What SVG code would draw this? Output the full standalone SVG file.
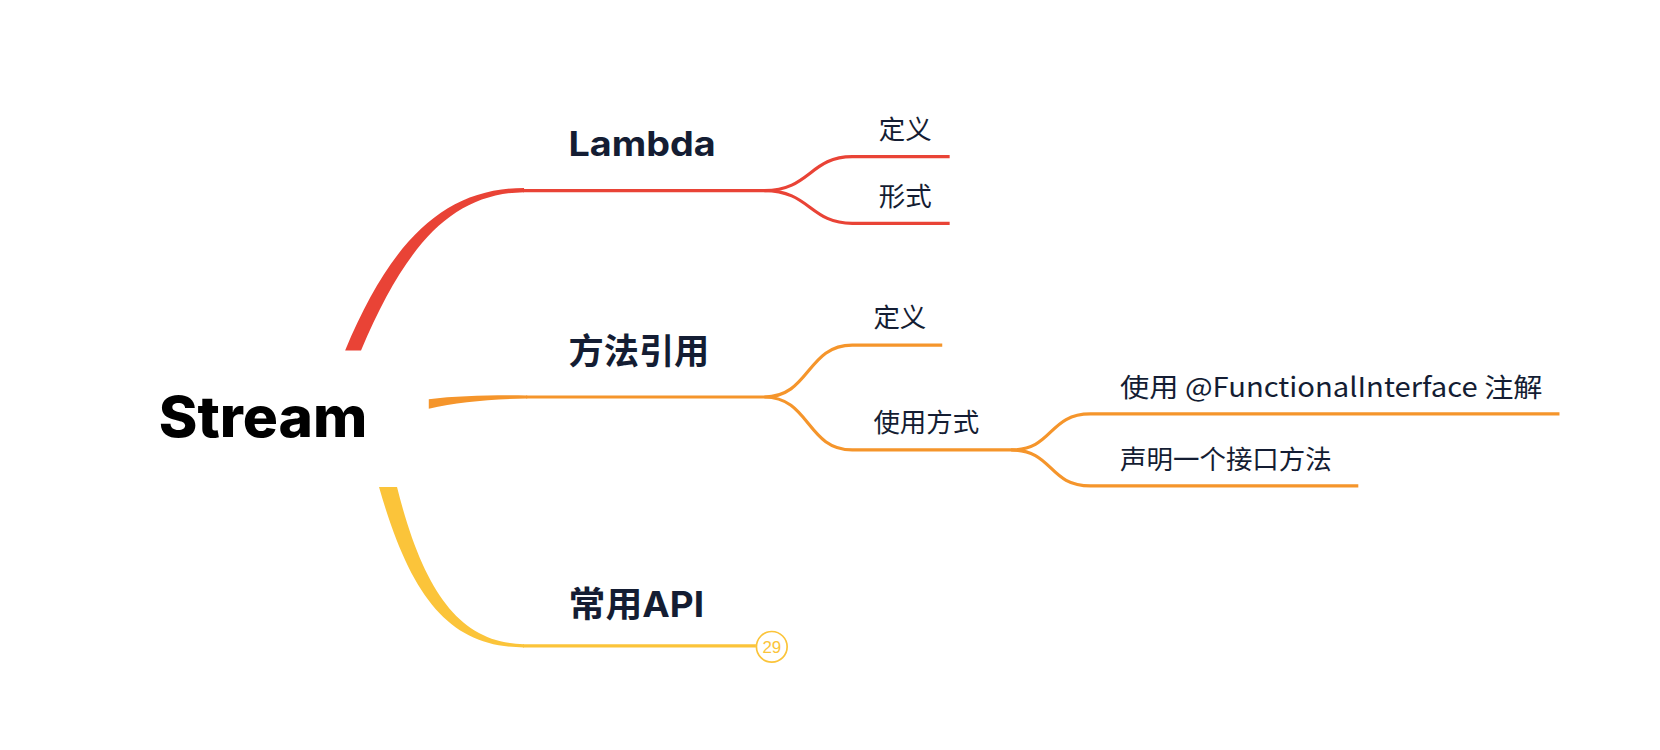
<svg xmlns="http://www.w3.org/2000/svg" width="1660" height="750" viewBox="0 0 1660 750">
<style>
.root{font-family:"Inter","Open Sans","Noto Sans CJK SC",sans-serif;font-weight:800;fill:#000}
.main{font-family:"Inter","Noto Sans CJK SC",sans-serif;font-weight:700;fill:#141d33}
.sub{font-family:"Noto Sans CJK SC","Noto Sans",sans-serif;font-weight:400;fill:#141d33}
.red{stroke:#e94336;fill:none;stroke-width:3}
.org{stroke:#f5952b;fill:none;stroke-width:3}
.yel{stroke:#fbc43a;fill:none;stroke-width:3}
</style>
<rect width="1660" height="750" fill="#fff"/>
<g transform="scale(1.0587)">
<g id="connectors">
  <path d="M326,331 C368,230 418,177.5 495,177.5 L495,181.5 C425,183 382,234 341,331 Z" fill="#e94336"/>
  <path class="red" d="M494,180 L722,180 C765,180 765,148 805,148 L897,148"/>
  <path class="red" d="M722,180 C765,180 765,211 805,211 L897,211"/>
  <path d="M405,377 C432,374 462,373 498,373.5 L498,376.5 C462,377 432,380 405,386 Z" fill="#f5952b"/>
  <path class="org" d="M497,375 L722,375 C765,375 762,326 805,326 L890,326"/>
  <path class="org" d="M722,375 C765,375 762,425 805,425 L955,425"/>
  <path class="org" d="M955,425 C995,425 990,391 1030,391 L1473,391"/>
  <path class="org" d="M955,425 C995,425 990,459 1030,459 L1283,459"/>
  <path d="M358,460 C388,565 425,611.5 495,611.5 L495,608.5 C435,607.5 400,560 375,460 Z" fill="#fbc43a"/>
  <path class="yel" d="M494,610 L714,610"/>
</g>
<g id="node-stream"><text class="root" x="150" y="413" font-size="53" textLength="197" lengthAdjust="spacingAndGlyphs">Stream</text></g>
<g id="node-lambda"><text class="main" x="537" y="147" font-size="32" font-weight="800" textLength="139" lengthAdjust="spacingAndGlyphs">Lambda</text></g>
<g id="node-lambda-def"><text class="sub" x="830" y="131" font-size="25">定义</text></g>
<g id="node-lambda-form"><text class="sub" x="830" y="195" font-size="25">形式</text></g>
<g id="node-methodref"><text class="main" x="537" y="344" font-size="33" textLength="133" lengthAdjust="spacingAndGlyphs">方法引用</text></g>
<g id="node-methodref-def"><text class="sub" x="825" y="309" font-size="25">定义</text></g>
<g id="node-usage"><text class="sub" x="825" y="408" font-size="25">使用方式</text></g>
<g id="node-fi"><text class="sub" x="1058" y="375" font-size="25" textLength="399" lengthAdjust="spacingAndGlyphs">使用 @FunctionalInterface 注解</text></g>
<g id="node-declare"><text class="sub" x="1058" y="443" font-size="25">声明一个接口方法</text></g>
<g id="node-api">
  <text class="main" x="537" y="583" font-size="33" textLength="128" lengthAdjust="spacingAndGlyphs">常用API</text>
  <circle cx="729" cy="611" r="14.5" fill="#fff" stroke="#fbc43a" stroke-width="1.6"/>
  <text x="729" y="617" font-size="16" text-anchor="middle" font-family="Liberation Sans, sans-serif" fill="#fbc43a">29</text>
</g>
</g>
</svg>
